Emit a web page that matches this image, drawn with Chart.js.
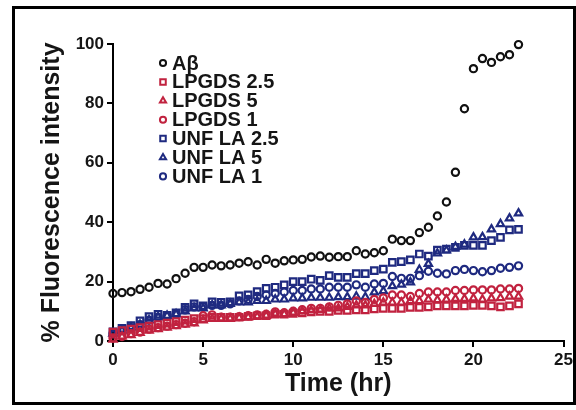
<!DOCTYPE html>
<html>
<head>
<meta charset="utf-8">
<script src="https://cdn.jsdelivr.net/npm/chart.js@4.4.1/dist/chart.umd.min.js"></script>
<style>
  html, body { margin: 0; padding: 0; background: #fff; }
  #wrap { position: relative; width: 576px; height: 410px; overflow: hidden; }
  #frame {
    position: absolute; left: 12px; top: 6px;
    width: 558px; height: 393px;
    border: 3px solid #000; pointer-events: none;
  }
  canvas { position: absolute; left: 0; top: 0; }
</style>
</head>
<body>
<div id="wrap">
  <canvas id="chart" width="576" height="410"></canvas>
  <div id="frame"></div>
</div>
<script>
// time points (hr)
const times = [0, 0.5, 1, 1.5, 2, 2.5, 3, 3.5, 4, 4.5, 5, 5.5, 6, 6.5, 7, 7.5,
  8, 8.5, 9, 9.5, 10, 10.5, 11, 11.5, 12, 12.5, 13, 13.5, 14, 14.5, 15, 15.5,
  16, 16.5, 17, 17.5, 18, 18.5, 19, 19.5, 20, 20.5, 21, 21.5, 22, 22.5];

// % fluorescence intensity per series
const abeta = [16, 16.3, 16.6, 17.4, 18.1, 19.4, 19.2, 21.0, 22.8, 24.8, 24.8, 25.6,
  25.3, 25.6, 26.2, 26.7, 25.6, 27.5, 26.2, 27.0, 27.3, 27.5, 28.3, 28.6,
  28.2, 28.4, 28.4, 30.4, 29.3, 29.7, 30.4, 34.3, 33.8, 33.8, 36.5, 38.3,
  42.1, 46.8, 56.8, 78.2, 91.7, 95.1, 93.8, 95.7, 96.4, 99.8];
const lpgds25 = [3, 3.5, 4, 4.5, 5, 5.5, 6, 6.5, 7, 7.5, 7.5, 8, 8, 8, 8, 8.3,
  8.5, 8.5, 9, 9, 9.3, 9.5, 9.8, 10, 10, 10.3, 10.3, 10.5, 10.5, 10.8, 11, 11,
  11, 11.3, 11.3, 11.5, 11.8, 11.8, 11.8, 11.8, 12, 12, 11.8, 11.5, 11.8, 12.5];
const lpgds5 = [0.5, 1.5, 2, 2.8, 3.5, 4, 4.5, 5, 5.5, 6, 7, 7.5, 7.5, 7.5, 7.8, 8,
  8.2, 8.5, 9, 9, 9.5, 10, 10.3, 10.5, 11, 11, 11.5, 12, 12, 12.5, 13, 13,
  13, 13.5, 13.5, 14, 13.8, 14, 14.2, 14.2, 14.4, 14, 14.4, 14.5, 15, 15];
const lpgds1 = [1, 1.5, 2.5, 3, 4, 4.5, 5, 5.5, 6, 6.5, 8.5, 8.8, 8, 8, 8.2, 8.5,
  8.8, 9, 9.8, 9.5, 10, 10.5, 11, 11, 11.5, 12, 12.5, 13.5, 13, 14, 14.5, 15.5,
  15.5, 15, 16, 16.5, 16.5, 16.5, 17, 17, 17.2, 17.2, 17.2, 17.5, 17.5, 17.7];
const unfla25 = [3.1, 4.3, 5.2, 6.8, 8.2, 9.0, 8.6, 9.5, 11.3, 12.5, 11.8, 13.2,
  13.0, 13.2, 15.2, 15.5, 16.6, 17.7, 18.1, 18.9, 20.0, 20.0, 20.8, 20.4,
  22.0, 21.4, 21.4, 22.7, 22.7, 23.7, 24.2, 26.5, 26.7, 27.3, 29.3, 28.6,
  30.6, 30.9, 31.5, 32.2, 32.2, 32.2, 33.8, 34.9, 37.4, 37.6];
const unfla5 = [2.5, 3.5, 4.5, 5.5, 7, 8, 8.5, 9, 10, 11, 11, 12, 12, 12.5, 13, 13,
  13.5, 13.5, 14, 14, 14.4, 14.4, 14.6, 14.6, 14.6, 14.8, 14.8, 15, 14.8, 16.4,
  16.8, 18.5, 19, 19.8, 24, 26, 29.5, 30.5, 31.7, 32.5, 34.9, 35, 37.6, 39.4, 41.3, 43];
const unfla1 = [2.5, 3.5, 4.5, 5.5, 7, 8, 8.5, 9, 10.5, 11.5, 11.5, 12, 12, 12.5,
  13.5, 14, 15, 15.5, 16, 16.5, 17, 17, 17.5, 17.5, 18.1, 18.1, 18.1, 18.9,
  18.1, 19.2, 19.4, 21.7, 21.1, 21.1, 22, 23.5, 22.8, 22.6, 23.7, 24.1, 23.7,
  23.3, 23.7, 24.5, 24.8, 25.3];

// axis ticks
const xTicks = [0, 5, 10, 15, 20, 25];
const yTicks = [0, 20, 40, 60, 80, 100];

const BLACK = '#111111';
const RED = '#c1223f';
const BLUE = '#1f2a80';
const FONT = 'Liberation Sans, Arial, sans-serif';

// marker size per point style
const markerRadius = { circle: 3.6, rect: 4.6, triangle: 4.2 };

function series(label, values, color, style) {
  return {
    label: label,
    data: values.map((v, i) => ({ x: times[i], y: v })),
    borderColor: color,
    backgroundColor: 'rgba(255,255,255,0)',
    pointStyle: style,
    pointRadius: markerRadius[style],
    pointBorderWidth: 2.2,
    showLine: false,
    clip: false
  };
}

/**
 * Legend drawn inside the plot area, top-left
 */
const innerLegend = {
  id: 'innerLegend',
  afterDraw(chart) {
    const ctx = chart.ctx;
    const x0 = 163, y0 = 63, step = 18.9;
    ctx.save();
    chart.data.datasets.forEach((ds, i) => {
      const y = y0 + i * step;
      ctx.strokeStyle = ds.borderColor;
      ctx.fillStyle = '#fff';
      ctx.lineWidth = 2;
      Chart.helpers.drawPoint(ctx, {
        pointStyle: ds.pointStyle,
        radius: markerRadius[ds.pointStyle] * 0.85,
        borderWidth: 2,
        rotation: 0
      }, x0, y);
      ctx.fillStyle = '#151515';
      ctx.font = 'bold 20px ' + FONT;
      ctx.textBaseline = 'middle';
      ctx.textAlign = 'left';
      ctx.fillText(ds.label, x0 + 9, y + 1);
    });
    ctx.restore();
  }
};

const ctx = document.getElementById('chart').getContext('2d');
new Chart(ctx, {
  type: 'scatter',
  data: {
    datasets: [
      series('A\u03B2', abeta, BLACK, 'circle'),
      series('LPGDS 2.5', lpgds25, RED, 'rect'),
      series('LPGDS 5', lpgds5, RED, 'triangle'),
      series('LPGDS 1', lpgds1, RED, 'circle'),
      series('UNF LA 2.5', unfla25, BLUE, 'rect'),
      series('UNF LA 5', unfla5, BLUE, 'triangle'),
      series('UNF LA 1', unfla1, BLUE, 'circle')
    ]
  },
  options: {
    responsive: false,
    animation: false,
    devicePixelRatio: 1,
    layout: { padding: { left: 0, top: 44, right: 11, bottom: 0 } },
    plugins: { legend: { display: false }, tooltip: { enabled: false } },
    scales: {
      x: {
        type: 'linear',
        min: 0, max: 25,
        afterFit: (s) => { s.height = 69; },
        afterBuildTicks: (s) => { s.ticks = xTicks.map(v => ({ value: v })); },
        border: { display: true, color: '#000', width: 2 },
        grid: { drawOnChartArea: false, drawTicks: true, tickLength: 6, color: '#000', lineWidth: 2 },
        ticks: { color: '#151515', padding: 3, font: { family: FONT, size: 17, weight: 'bold' } },
        title: {
          display: true, text: 'Time (hr)', color: '#151515',
          padding: { top: 0, bottom: 11 },
          font: { family: FONT, size: 25, weight: 'bold' }
        }
      },
      y: {
        type: 'linear',
        min: 0, max: 100,
        afterFit: (s) => { s.width = 113; },
        afterBuildTicks: (s) => { s.ticks = yTicks.map(v => ({ value: v })); },
        border: { display: true, color: '#000', width: 2 },
        grid: { drawOnChartArea: false, drawTicks: true, tickLength: 6, color: '#000', lineWidth: 2 },
        ticks: { color: '#151515', padding: 3, font: { family: FONT, size: 17, weight: 'bold' } },
        title: {
          display: true, text: '% Fluorescence intensity', color: '#151515',
          padding: { top: 37, bottom: 0 },
          font: { family: FONT, size: 25, weight: 'bold' }
        }
      }
    }
  },
  plugins: [innerLegend]
});
</script>
</body>
</html>
